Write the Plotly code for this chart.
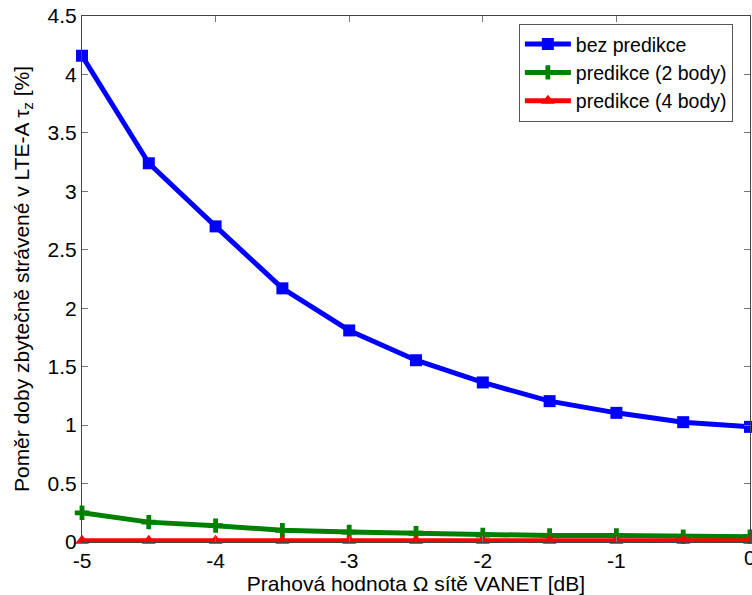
import plotly.graph_objects as go

x = [-5, -4.5, -4, -3.5, -3, -2.5, -2, -1.5, -1, -0.5, 0]
bez = [4.16, 3.24, 2.70, 2.17, 1.81, 1.555, 1.365, 1.205, 1.105, 1.025, 0.985]
pred2 = [0.25, 0.17, 0.14, 0.10, 0.085, 0.075, 0.06, 0.055, 0.055, 0.045, 0.045]
pred4 = [0.01, 0.01, 0.01, 0.01, 0.01, 0.01, 0.01, 0.01, 0.01, 0.01, 0.01]

names = ["bez predikce", "predikce (2 body)", "predikce (4 body)"]
colors = ["#0000ff", "#008000", "#ff0000"]
symbols = ["square", "cross", "triangle-up"]
xticks = [-5, -4, -3, -2, -1, 0]
xticklabels = ["-5", "-4", "-3", "-2", "-1", "0"]
yticks = [0, 0.5, 1, 1.5, 2, 2.5, 3, 3.5, 4, 4.5]
yticklabels = ["0", "0.5", "1", "1.5", "2", "2.5", "3", "3.5", "4", "4.5"]

fig = go.Figure()
for ys, n, c, s in zip([bez, pred2, pred4], names, colors, symbols):
    fig.add_trace(go.Scatter(x=x, y=ys, name=n, mode="lines+markers",
                             line=dict(color=c, width=5),
                             marker=dict(color=c, symbol=s, size=12),
                             cliponaxis=False))

font = "Liberation Sans, Arial, sans-serif"
tf = dict(family=font, size=21, color="black")
fig.update_layout(
    width=752, height=595,
    margin=dict(l=82, r=2, t=16, b=53, autoexpand=False),
    plot_bgcolor="white", paper_bgcolor="white",
    font=tf,
    showlegend=True,
    legend=dict(x=0.654, y=0.985, xanchor="left", yanchor="top",
                bgcolor="white", bordercolor="#555", borderwidth=1,
                font=dict(family=font, size=19.5, color="black"),
                itemwidth=46, tracegroupgap=0),
    xaxis=dict(range=[-5, 0], tickvals=xticks, ticktext=xticklabels,
               tickfont=tf,
               ticks="inside", ticklen=6, tickcolor="#777",
               showline=True, linecolor="#444", mirror="ticks", showgrid=False,
               zeroline=False, automargin=False,
               title=dict(text="Prahová hodnota Ω sítě VANET [dB]", font=tf, standoff=2)),
    yaxis=dict(range=[0, 4.5], tickvals=yticks, ticktext=yticklabels,
               tickfont=tf,
               ticks="inside", ticklen=6, tickcolor="#777",
               showline=True, linecolor="#444", mirror="ticks", showgrid=False,
               zeroline=False, automargin=False,
               title=dict(text="Poměr doby zbytečně strávené v LTE-A τ<sub>z</sub> [%]", font=tf, standoff=12)),
)
# right-most x tick label, half cut off by the page edge as in the reference
fig.add_annotation(x=xticks[-1], xref="x", y=0, yref="paper", text=xticklabels[-1],
                   showarrow=False, yanchor="top", yshift=-2, font=tf)
fig.write_html("out.html")
